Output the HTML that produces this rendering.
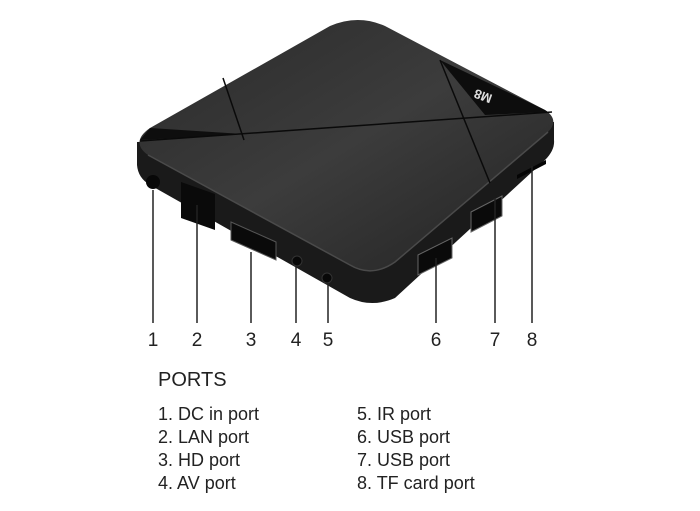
<!DOCTYPE html>
<html><head><style>
body{margin:0;background:#fff;width:700px;height:511px;overflow:hidden}
svg{display:block}
text{font-family:"Liberation Sans",sans-serif;fill:#222}
</style></head><body>
<svg width="700" height="511" viewBox="0 0 700 511">
<defs>
<linearGradient id="top" x1="0" y1="0" x2="1" y2="1">
<stop offset="0" stop-color="#2a2a2a"/><stop offset="0.5" stop-color="#3c3c3c"/><stop offset="1" stop-color="#222"/>
</linearGradient>
</defs>
<!-- side body -->
<path d="M137,142 L137,165 Q138,178 150,185 L350,298 Q372,308 395,298 L545,160 Q555,150 554,140 L554,122 Z" fill="#1a1a1a"/>
<!-- top surface -->
<path d="M150,128 L330,26 Q358,14 385,26 L545,110 Q560,120 548,132 L395,262 Q372,278 350,265 L148,155 Q130,142 150,128 Z" fill="url(#top)"/>
<path d="M148,155 L350,265 Q372,278 395,262 L548,132" fill="none" stroke="#4a4a4a" stroke-width="1.5"/>
<!-- dark facets -->
<path d="M140,140 L243,134 L150,128 Z" fill="#0e0e0e"/>
<path d="M440,60 L485,115 L548,112 L545,110 Z" fill="#0d0d0d"/>
<!-- lines -->
<line x1="223" y1="78" x2="244" y2="140" stroke="#0a0a0a" stroke-width="1.5"/>
<line x1="440" y1="60" x2="490" y2="183" stroke="#0a0a0a" stroke-width="1.5"/>
<line x1="140" y1="141" x2="552" y2="112" stroke="#0a0a0a" stroke-width="1.5"/>
<text x="0" y="0" transform="translate(493,95) rotate(200)" font-size="13" font-weight="bold" style="fill:#ddd">M8</text>
<!-- ports -->
<circle cx="153" cy="182" r="7" fill="#080808"/>
<path d="M181,182 L215,194 L215,230 L181,218 Z" fill="#0a0a0a"/>
<path d="M231,222 L276,242 L276,260 L231,240 Z" fill="#0a0a0a" stroke="#555" stroke-width="1"/>
<circle cx="297" cy="261" r="5" fill="#080808" stroke="#333"/>
<circle cx="327" cy="278" r="5" fill="#080808" stroke="#333"/>
<path d="M418,255 L452,238 L452,258 L418,275 Z" fill="#0a0a0a" stroke="#666"/>
<path d="M471,212 L502,196 L502,216 L471,232 Z" fill="#0a0a0a" stroke="#666"/>
<path d="M517,175 L546,160 L546,164 L517,179 Z" fill="#050505"/>
<!-- leaders -->
<g stroke="#222" stroke-width="1.5">
<line x1="153" y1="190" x2="153" y2="323"/>
<line x1="197" y1="205" x2="197" y2="323"/>
<line x1="251" y1="252" x2="251" y2="323"/>
<line x1="296" y1="266" x2="296" y2="323"/>
<line x1="328" y1="283" x2="328" y2="323"/>
<line x1="436" y1="258" x2="436" y2="323"/>
<line x1="495" y1="198" x2="495" y2="323"/>
<line x1="532" y1="166" x2="532" y2="323"/>
</g>
<g font-size="19" text-anchor="middle">
<text x="153" y="346">1</text><text x="197" y="346">2</text><text x="251" y="346">3</text>
<text x="296" y="346">4</text><text x="328" y="346">5</text><text x="436" y="346">6</text>
<text x="495" y="346">7</text><text x="532" y="346">8</text>
</g>
<text x="158" y="386" font-size="20">PORTS</text>
<g font-size="18">
<text x="158" y="420">1. DC in port</text><text x="158" y="443">2. LAN port</text>
<text x="158" y="466">3. HD port</text><text x="158" y="489">4. AV port</text>
<text x="357" y="420">5. IR port</text><text x="357" y="443">6. USB port</text>
<text x="357" y="466">7. USB port</text><text x="357" y="489">8. TF card port</text>
</g>
</svg>
</body></html>
